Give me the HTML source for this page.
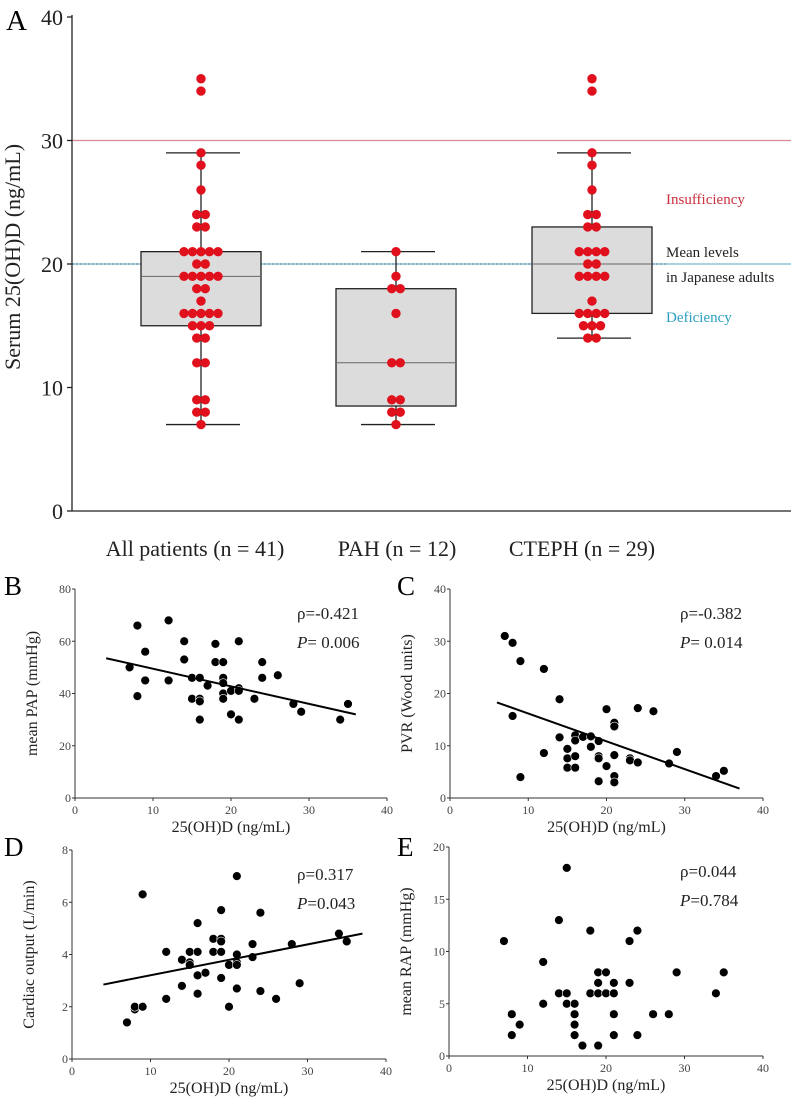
<!DOCTYPE html>
<html><head><meta charset="utf-8"><style>
html,body{margin:0;padding:0;background:#fff;}
svg{display:block;font-family:"Liberation Serif",serif;}
</style></head><body>
<svg id="fig" width="796" height="1106" viewBox="0 0 796 1106" xmlns="http://www.w3.org/2000/svg"></svg>
<script>
// ---- Panel A data ----
const groupNames = ["All patients (n = 41)", "PAH (n = 12)", "CTEPH (n = 29)"];
const allVals = [35,34,29,28,26,24,24,23,23,21,21,21,21,21,20,20,19,19,19,19,19,18,18,17,16,16,16,16,16,15,15,15,14,14,12,12,9,9,8,8,7];
const pahVals = [21,19,18,18,16,12,12,9,9,8,8,7];
const ctephVals = [35,34,29,28,26,24,24,23,23,21,21,21,21,20,20,19,19,19,19,17,16,16,16,16,15,15,15,14,14];
const boxQ1 = [15, 8.5, 16];
const boxMed = [19, 12, 20];
const boxQ3 = [21, 18, 23];
const whiskLo = [7, 7, 14];
const whiskHi = [29, 21, 29];
const aTicks = [0,10,20,30,40];
// ---- Panel B ----
const bX = [7,8,8,9,9,12,12,14,14,15,15,16,16,16,16,17,18,18,19,19,19,19,19,20,20,21,21,21,21,23,24,24,26,28,29,34,35];
const bY = [50,66,39,56,45,68,45,60,53,46,38,46,38,37,30,43,59,52,52,46,44,40,38,41,32,60,42,41,30,38,52,46,47,36,33,30,36];
const bFit = [[4,53.5],[36,32]];
// ---- Panel C ----
const cX = [7,8,8,9,9,12,12,14,14,15,15,15,16,16,16,16,17,18,18,19,19,19,19,20,20,21,21,21,21,21,23,23,24,24,26,28,29,34,35];
const cY = [31,29.7,15.7,26.2,4,24.7,8.6,18.9,11.6,9.4,7.6,5.8,12,11,8,5.8,11.7,11.8,9.8,10.9,8,7.6,3.2,17,6.1,14.4,13.7,8.2,4.2,3,7.6,7.2,17.2,6.8,16.6,6.6,8.8,4.2,5.2];
const cFit = [[6,18.3],[37,1.8]];
// ---- Panel D ----
const dX = [7,8,8,9,9,12,12,14,14,15,15,15,16,16,16,16,17,18,18,19,19,19,19,19,20,20,21,21,21,21,21,23,23,24,24,26,28,29,34,35];
const dY = [1.4,1.9,2,6.3,2,4.1,2.3,3.8,2.8,4.1,3.7,3.6,5.2,4.1,3.2,2.5,3.3,4.6,4.1,5.7,4.6,4.5,4.1,3.1,3.6,2,7,4,3.7,3.6,2.7,4.4,3.9,5.6,2.6,2.3,4.4,2.9,4.8,4.5];
const dFit = [[4,2.85],[37,4.8]];
// ---- Panel E ----
const eX = [7,8,8,9,12,12,14,14,15,15,15,16,16,16,16,17,18,18,19,19,19,19,20,20,21,21,21,21,23,23,24,24,26,28,29,34,35];
const eY = [11,4,2,3,9,5,13,6,18,6,5,5,4,3,2,1,12,6,8,7,6,1,8,6,7,6,4,2,11,7,12,2,4,4,8,6,8];
const xTicksSc = [0,10,20,30,40];

const NS = "http://www.w3.org/2000/svg";
const svg = document.getElementById('fig');
function mk(tag, attrs, parent, name, txt){
  const e = document.createElementNS(NS, tag);
  for (const k in attrs) e.setAttribute(k, attrs[k]);
  
  
  if (txt !== undefined) e.textContent = txt;
  (parent || svg).appendChild(e);
  return e;
}

// ===== Panel A =====
const aX0 = 72, aX1 = 791;
const ay = v => 511 - v * 12.35;
const gCx = [201, 396, 592];
const boxHalf = 60;
const gA = mk('g', {}, svg, 'panel-a');
mk('text', {x:6, y:30, 'font-size':29}, gA, 'panel-a-label', 'A');
mk('line', {x1:aX0, y1:ay(30), x2:aX1, y2:ay(30), stroke:'#d98a8f', 'stroke-width':1.2}, gA, 'insufficiency-line');
mk('line', {x1:aX0, y1:ay(20), x2:aX1, y2:ay(20), stroke:'#79b8cf', 'stroke-width':1.2}, gA, 'deficiency-line');
mk('line', {x1:aX0, y1:ay(20), x2:666, y2:ay(20), stroke:'#3a6f80', 'stroke-width':1, 'stroke-dasharray':'2,2'}, gA, 'deficiency-dash');
const groupsVals = [allVals, pahVals, ctephVals];
for (let i = 0; i < 3; i++) {
  const cx = gCx[i];
  mk('line', {x1:cx, y1:ay(whiskLo[i]), x2:cx, y2:ay(whiskHi[i]), stroke:'#222', 'stroke-width':1.3}, gA, 'whisker-' + i);
  mk('line', {x1:cx-35, y1:ay(whiskHi[i]), x2:cx+39, y2:ay(whiskHi[i]), stroke:'#222', 'stroke-width':1.3}, gA, 'whisker-cap-high-' + i);
  mk('line', {x1:cx-35, y1:ay(whiskLo[i]), x2:cx+39, y2:ay(whiskLo[i]), stroke:'#222', 'stroke-width':1.3}, gA, 'whisker-cap-low-' + i);
  mk('rect', {x:cx-boxHalf, y:ay(boxQ3[i]), width:boxHalf*2, height:ay(boxQ1[i]) - ay(boxQ3[i]), fill:'#dcdcdc', stroke:'#222', 'stroke-width':1.3}, gA, 'box-' + i);
  mk('line', {x1:cx-boxHalf, y1:ay(boxMed[i]), x2:cx+boxHalf, y2:ay(boxMed[i]), stroke:'#666', 'stroke-width':1}, gA, 'median-' + i);
}
for (let i = 0; i < 3; i++) {
  const counts = {};
  groupsVals[i].forEach(v => counts[v] = (counts[v] || 0) + 1);
  Object.keys(counts).forEach(k => {
    const n = counts[k];
    for (let j = 0; j < n; j++) {
      const off = (j - (n - 1) / 2) * 8.5;
      mk('circle', {cx:gCx[i] + off, cy:ay(+k), r:4.7, fill:'#e0101c'}, gA, 'dot-' + i);
    }
  });
}
mk('line', {x1:aX0, y1:15, x2:aX0, y2:511, stroke:'#222', 'stroke-width':1.3}, gA, 'a-y-axis');
mk('line', {x1:aX0, y1:511, x2:aX1, y2:511, stroke:'#222', 'stroke-width':1.3}, gA, 'a-x-axis');
aTicks.forEach(t => {
  mk('line', {x1:aX0-5, y1:ay(t), x2:aX0, y2:ay(t), stroke:'#222', 'stroke-width':1.3}, gA, 'a-y-tick');
  mk('text', {x:aX0-9, y:ay(t)+8, 'font-size':22, 'text-anchor':'end', fill:'#222'}, gA, 'a-y-tick-label', t);
});
mk('text', {x:0, y:0, 'font-size':22, 'text-anchor':'middle', transform:'translate(20,257) rotate(-90)', fill:'#222'}, gA, 'a-y-axis-title', 'Serum 25(OH)D (ng/mL)');
const catX = [195, 397, 582];
groupNames.forEach((n, i) => mk('text', {x:catX[i], y:556, 'font-size':22, 'text-anchor':'middle', fill:'#222'}, gA, 'category-label', n));
mk('text', {x:666, y:204, 'font-size':15, fill:'#c8313e'}, gA, 'insufficiency-label', 'Insufficiency');
mk('text', {x:666, y:257, 'font-size':15, fill:'#222'}, gA, 'mean-levels-label', 'Mean levels');
mk('text', {x:666, y:282, 'font-size':15, fill:'#222'}, gA, 'mean-levels-label-2', 'in Japanese adults');
mk('text', {x:666, y:322, 'font-size':15, fill:'#2aa0c0'}, gA, 'deficiency-label', 'Deficiency');

// ===== Scatter panels =====
function scatter(cfg) {
  const g = mk('g', {}, svg, cfg.name);
  const sx = v => cfg.x0 + (v / 40) * (cfg.x1 - cfg.x0);
  const sy = v => cfg.y0 - (v / cfg.ymax) * (cfg.y0 - cfg.yTop);
  mk('text', {x:cfg.lx, y:cfg.ly, 'font-size':27}, g, cfg.name + '-label', cfg.letter);
  mk('line', {x1:cfg.x0, y1:cfg.yTop, x2:cfg.x0, y2:cfg.y0, stroke:'#333', 'stroke-width':1}, g, 'y-axis');
  mk('line', {x1:cfg.x0, y1:cfg.y0, x2:cfg.x1, y2:cfg.y0, stroke:'#333', 'stroke-width':1}, g, 'x-axis');
  cfg.yTicks.forEach(t => {
    mk('line', {x1:cfg.x0-3, y1:sy(t), x2:cfg.x0, y2:sy(t), stroke:'#333'}, g, 'y-tick');
    mk('text', {x:cfg.x0-4, y:sy(t)+4, 'font-size':12, 'text-anchor':'end', fill:'#444'}, g, 'y-tick-label', t);
  });
  xTicksSc.forEach(t => {
    mk('line', {x1:sx(t), y1:cfg.y0, x2:sx(t), y2:cfg.y0+3, stroke:'#333'}, g, 'x-tick');
    mk('text', {x:sx(t), y:cfg.y0+16, 'font-size':12, 'text-anchor':'middle', fill:'#444'}, g, 'x-tick-label', t);
  });
  mk('text', {x:(cfg.x0+cfg.x1)/2, y:cfg.y0+34, 'font-size':16, 'text-anchor':'middle', fill:'#222'}, g, 'x-axis-title', '25(OH)D (ng/mL)');
  mk('text', {x:0, y:0, 'font-size':16, 'text-anchor':'middle', transform:`translate(${cfg.x0-38},${(cfg.y0+cfg.yTop)/2}) rotate(-90)`, fill:'#222'}, g, 'y-axis-title', cfg.ytitle);
  cfg.xs.forEach((v, i) => mk('circle', {cx:sx(v), cy:sy(cfg.ys[i]), r:4.4, fill:'#000', stroke:'#fff', 'stroke-width':0.6}, g, 'point'));
  if (cfg.fit) mk('line', {x1:sx(cfg.fit[0][0]), y1:sy(cfg.fit[0][1]), x2:sx(cfg.fit[1][0]), y2:sy(cfg.fit[1][1]), stroke:'#000', 'stroke-width':2}, g, 'regression-line');
  mk('text', {x:cfg.sx, y:cfg.yTop+30, 'font-size':17, fill:'#222'}, g, 'rho-label', cfg.rho);
  const p = mk('text', {x:cfg.sx, y:cfg.yTop+59, 'font-size':17, fill:'#222'}, g, 'p-label');
  mk('tspan', {'font-style':'italic'}, p, 'p-symbol', 'P');
  mk('tspan', {}, p, 'p-value', cfg.pval);
}
scatter({name:'panel-b', letter:'B', lx:4, ly:595, x0:75, x1:387, y0:798, yTop:589, ymax:80, yTicks:[0,20,40,60,80], xs:bX, ys:bY, fit:bFit, ytitle:'mean PAP (mmHg)', sx:297, rho:'ρ=-0.421', pval:'= 0.006'});
scatter({name:'panel-c', letter:'C', lx:397, ly:595, x0:450, x1:763, y0:798, yTop:589, ymax:40, yTicks:[0,10,20,30,40], xs:cX, ys:cY, fit:cFit, ytitle:'PVR (Wood units)', sx:680, rho:'ρ=-0.382', pval:'= 0.014'});
scatter({name:'panel-d', letter:'D', lx:4, ly:856, x0:72, x1:386, y0:1059, yTop:850, ymax:8, yTicks:[0,2,4,6,8], xs:dX, ys:dY, fit:dFit, ytitle:'Cardiac output (L/min)', sx:297, rho:'ρ=0.317', pval:'=0.043'});
scatter({name:'panel-e', letter:'E', lx:397, ly:856, x0:449, x1:763, y0:1056, yTop:847, ymax:20, yTicks:[0,5,10,15,20], xs:eX, ys:eY, fit:null, ytitle:'mean RAP (mmHg)', sx:680, rho:'ρ=0.044', pval:'=0.784'});
</script>
</body></html>
